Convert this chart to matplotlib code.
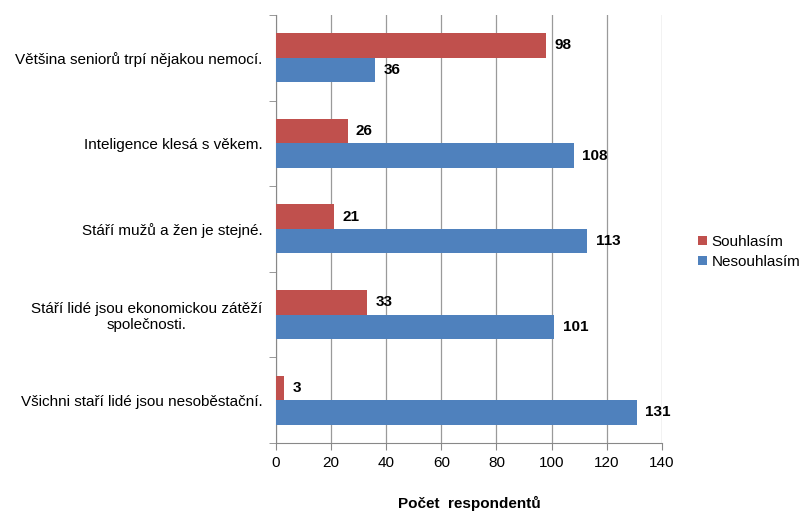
import numpy as np
import matplotlib.pyplot as plt

plt.rcParams['font.family'] = ['Liberation Sans', 'DejaVu Sans']

# Data
kategorie = [
    "Většina seniorů trpí nějakou nemocí.",
    "Inteligence klesá s věkem.",
    "Stáří mužů a žen je stejné.",
    "Stáří lidé jsou ekonomickou zátěží\nspolečnosti.",
    "Všichni staří lidé jsou nesoběstační.",
]
souhlasim = [98, 26, 21, 33, 3]
nesouhlasim = [36, 108, 113, 101, 131]

red = '#C0504D'
blue = '#4F81BD'

fig = plt.figure(figsize=(8.05, 5.14), dpi=100)
ax = fig.add_axes([0.343, 0.138, 0.479, 0.833])

n = len(kategorie)
y = np.arange(n)[::-1]
h = 0.286

ax.barh(y + h / 2, souhlasim, height=h, color=red, label='Souhlasím', zorder=3)
ax.barh(y - h / 2, nesouhlasim, height=h, color=blue, label='Nesouhlasím', zorder=3)

# popisky hodnot
for yi, v in zip(y, souhlasim):
    ax.text(v + 3, yi + h / 2, str(v), va='center', ha='left',
            fontsize=11, fontweight='bold', zorder=4)
for yi, v in zip(y, nesouhlasim):
    ax.text(v + 3, yi - h / 2, str(v), va='center', ha='left',
            fontsize=11, fontweight='bold', zorder=4)

ax.set_xlim(0, 140)
ax.set_ylim(-0.5, n - 0.5)
ax.set_xticks(np.arange(0, 141, 20))
ax.set_yticks(y)
ax.set_yticklabels(kategorie, fontsize=11, multialignment='center')
ax.set_yticks(np.arange(-0.5, n, 1), minor=True)
ax.tick_params(axis='y', which='major', length=0, pad=10)
ax.tick_params(axis='y', which='minor', length=5, color='#888888')
ax.tick_params(axis='x', length=5, color='#888888', labelsize=11, pad=4)

ax.grid(axis='x', color='#9A9A9A', linewidth=0.9, zorder=0)
for s in ['top', 'right']:
    ax.spines[s].set_visible(False)
for s in ['left', 'bottom']:
    ax.spines[s].set_color('#888888')

ax.set_xlabel('Počet  respondentů', fontsize=11, fontweight='bold', labelpad=19)

fig.legend(loc='center left', bbox_to_anchor=(0.85, 0.51), frameon=False,
           fontsize=11, handlelength=0.6, handleheight=0.6, handletextpad=0.3,
           labelspacing=0.4)

fig.savefig('out.png', dpi=100)
